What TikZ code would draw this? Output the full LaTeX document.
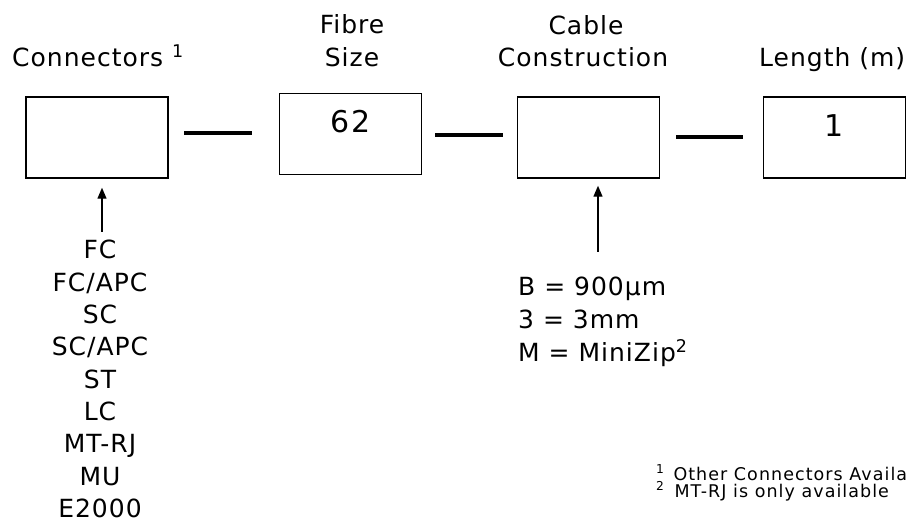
\documentclass[tikz,border=0pt]{standalone}
\usepackage{fontspec}
\setmainfont{DejaVu Sans}[LetterSpace=4]
\newfontfamily\footfont{DejaVu Sans}[LetterSpace=6]
\usetikzlibrary{arrows.meta}
\begin{document}
\begin{tikzpicture}[x=1pt,y=-1pt,
  codebox/.style={draw, line width=1.5pt, minimum width=142pt, minimum height=81pt, inner sep=0pt},
  caption/.style={anchor=base, inner sep=0pt, font=\fontsize{25}{30}\selectfont},
  boxval/.style={inner sep=0pt, font=\fontsize{30}{36}\selectfont},
  dashline/.style={line width=4pt},
  arr/.style={line width=1.4pt, -{Triangle[length=11pt,width=9pt]}},
  listtext/.style={anchor=base, inner sep=0pt, font=\fontsize{25}{30}\selectfont},
  foot/.style={anchor=base west, inner sep=0pt, font=\footfont\fontsize{17.5}{18}\selectfont}]
\clip (0,0) rectangle (908,521);
\useasboundingbox (0,0) rectangle (908,521);
% boxes
\node[codebox] (b1) at (97,137.5) {};
\node[codebox] (b2) at (350.5,134) {};
\node[codebox] (b3) at (588.5,137.5) {};
\node[codebox] (b4) at (834.5,137.5) {};
% values
\node[boxval] (v2) at (350.5,122) {62};
\node[boxval] (v4) at (834,126) {1};
% captions
\node[caption, anchor=base west] (c1) at (12,67) {Connectors \textsuperscript{1}};
\node[caption] (c2a) at (352,34) {Fibre};
\node[caption] (c2b) at (352,67) {Size};
\node[caption] (c3a) at (586,35) {Cable};
\node[caption] (c3b) at (583,67) {Construction};
\node[caption, anchor=base west] (c4) at (759,67) {Length (m)};
% dashes
\coordinate (d1s) at (184,133); \coordinate (d1e) at (252,133);
\coordinate (d2s) at (435,135); \coordinate (d2e) at (503,135);
\coordinate (d3s) at (676,137); \coordinate (d3e) at (743,137);
\draw[dashline] (d1s) -- (d1e);
\draw[dashline] (d2s) -- (d2e);
\draw[dashline] (d3s) -- (d3e);
% arrows
\coordinate (a1) at (102,232);
\coordinate (a2) at (598,252);
\draw[arr, shorten >=9pt] (a1) -- (a1 |- b1.south);
\draw[arr, shorten >=7pt] (a2) -- (a2 |- b3.south);
% connector list
\node[listtext] (l1) at (100,259) {FC};
\node[listtext] (l2) at (100,291.3) {FC/APC};
\node[listtext] (l3) at (100,323.6) {SC};
\node[listtext] (l4) at (100,355.9) {SC/APC};
\node[listtext] (l5) at (100,388.2) {ST};
\node[listtext] (l6) at (100,420.5) {LC};
\node[listtext] (l7) at (100,452.8) {MT-RJ};
\node[listtext] (l8) at (100,485.1) {MU};
\node[listtext] (l9) at (100,517) {E2000};
% cable construction list
\node[listtext, anchor=base west] (k1) at (518,296) {B = 900µm};
\node[listtext, anchor=base west] (k2) at (518,329) {3 = 3mm};
\node[listtext, anchor=base west] (k3) at (518,362) {M = MiniZip\textsuperscript{2}};
% footnotes
\node[foot] (f1) at (656,480) {\textsuperscript{1}\hspace{9pt}Other Connectors Available};
\node[foot] (f2) at (656,497) {\textsuperscript{2}\hspace{10pt}MT-RJ is only available};
\end{tikzpicture}
\end{document}
